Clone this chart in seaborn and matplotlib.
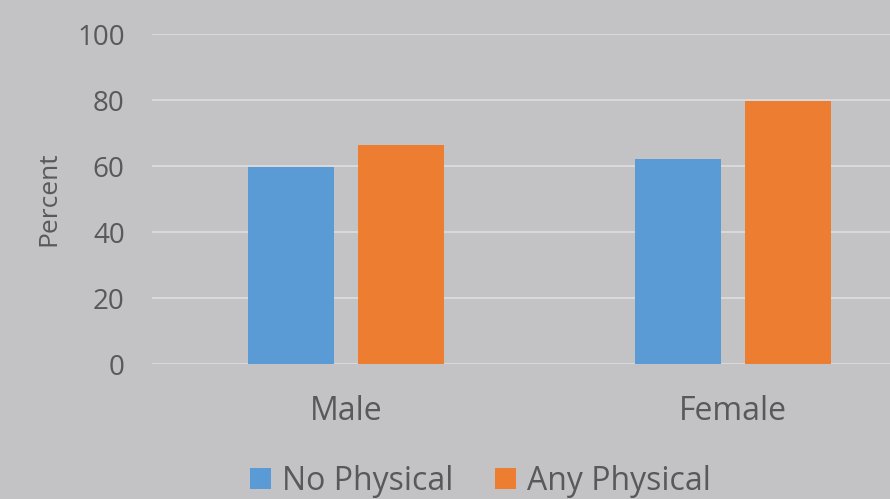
import matplotlib
matplotlib.use("Agg")
import matplotlib.pyplot as plt
import seaborn as sns
import pandas as pd
from matplotlib.patches import Patch

categories = ["Male", "Female"]
series_names = ["No Physical", "Any Physical"]
no_physical = [59.7, 62.1]
any_physical = [66.4, 79.8]
y_ticks = [0, 20, 40, 60, 80, 100]

df = pd.DataFrame({
    "Sex": categories * 2,
    "Group": [series_names[0]] * 2 + [series_names[1]] * 2,
    "Percent": no_physical + any_physical,
})

bg = "#C3C3C5"
grid = "#D9D9D9"
txt = "#595959"
colors = ["#5B9BD5", "#ED7D31"]

sns.set_theme(style="white")
plt.rcParams["font.family"] = ["Open Sans", "DejaVu Sans"]

fig = plt.figure(figsize=(8.9, 4.99), dpi=100, facecolor=bg)
ax = fig.add_axes([0.1713, 0.2705, 0.8697, 0.6613])
ax.set_facecolor(bg)

sns.barplot(data=df, x="Sex", y="Percent", hue="Group", order=categories,
            hue_order=series_names, palette=colors, width=0.568, gap=0.21,
            saturation=1, errorbar=None, legend=False, ax=ax, zorder=3,
            linewidth=0, edgecolor="none")

ax.set_xlim(-0.5, 1.5)
ax.set_ylim(0, 100)
ax.set_yticks(y_ticks)
ax.yaxis.grid(True, color=grid, linewidth=1.5, zorder=0)
ax.set_axisbelow(True)
for s in ax.spines.values():
    s.set_visible(False)
ax.tick_params(axis="y", length=0, pad=20, labelsize=20, labelcolor=txt)
ax.tick_params(axis="x", length=0, pad=22, labelsize=23, labelcolor=txt)
ax.set_xlabel("")
ax.set_ylabel("Percent", fontsize=19, color=txt, labelpad=11)

handles = [Patch(facecolor=c, edgecolor="none") for c in colors]
fig.legend(handles, series_names, loc="lower center", bbox_to_anchor=(0.54, -0.055),
           ncol=2, frameon=False, fontsize=23, labelcolor=txt,
           handlelength=0.65, handleheight=0.65, handletextpad=0.35, columnspacing=1.3)

fig.savefig("out.png", dpi=100, facecolor=bg)
